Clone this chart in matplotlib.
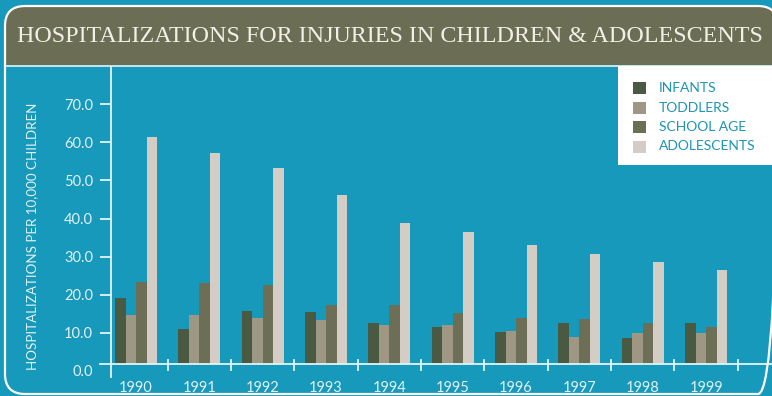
import matplotlib
matplotlib.use("Agg")
import matplotlib.pyplot as plt
from matplotlib.patches import FancyBboxPatch, Rectangle
import numpy as np

# ---- data -------------------------------------------------------------
years = ["1990", "1991", "1992", "1993", "1994",
         "1995", "1996", "1997", "1998", "1999"]
infants = [19.1, 11.0, 15.7, 15.4, 12.6, 11.5, 10.2, 12.6, 8.6, 12.6]
toddlers = [14.7, 14.7, 13.9, 13.3, 12.0, 12.0, 10.5, 8.9, 9.9, 9.9]
school_age = [23.3, 23.1, 22.5, 17.3, 17.3, 15.2, 13.9, 13.6, 12.6, 11.5]
adolescents = [61.4, 57.2, 53.3, 46.2, 38.8, 36.5, 33.0, 30.7, 28.6, 26.5]
series_names = ["INFANTS", "TODDLERS", "SCHOOL AGE", "ADOLESCENTS"]
y_ticks = [0, 10, 20, 30, 40, 50, 60, 70]

title = "HOSPITALIZATIONS FOR INJURIES IN CHILDREN & ADOLESCENTS"
y_label = "HOSPITALIZATIONS PER 10,000 CHILDREN"

# ---- style ------------------------------------------------------------
BLUE = "#1699ba"
OLIVE = "#6b6e55"
LINE = "#e6f3f6"
TEXT = "#e2f1f5"
LEGEND_TEXT = "#1c94b7"
colors = ["#4a5a42", "#9e9784", "#6c6e55", "#d3cdc6"]
SANS = ["Lato", "DejaVu Sans"]
SERIF = ["Liberation Serif", "DejaVu Serif"]

W, H = 772, 396
fig = plt.figure(figsize=(W / 100, H / 100), dpi=100, facecolor=BLUE)

# ---- frame, title band, legend panel (pixel coordinates) ---------------
bg = fig.add_axes([0, 0, 1, 1])
bg.set_xlim(0, W)
bg.set_ylim(H, 0)
bg.axis("off")

frame_box = dict(xy=(5, 6), width=773, height=388)
frame = FancyBboxPatch(**frame_box,
                       boxstyle="round,pad=0,rounding_size=20",
                       facecolor=BLUE, edgecolor="none", zorder=1)
bg.add_patch(frame)
band = Rectangle((0, 0), W, 65, facecolor=OLIVE, edgecolor="none", zorder=2)
bg.add_patch(band)
band.set_clip_path(frame)
bg.plot([5, W], [65.5, 65.5], color=LINE, lw=1.2, zorder=3)
bg.add_patch(Rectangle((618, 66), W - 618, 99, facecolor="white",
                       edgecolor="none", zorder=4))
bg.add_patch(FancyBboxPatch(**frame_box,
                            boxstyle="round,pad=0,rounding_size=20",
                            facecolor="none", edgecolor="white",
                            lw=1.6, zorder=5, clip_on=False))

bg.text(390, 37, title, ha="center", va="center", color="#f2efe6",
        fontsize=17.3, family=SERIF, zorder=6)

# legend entries
leg_y = [87.5, 107.5, 127.0, 146.5]
for name, col, yy in zip(series_names, colors, leg_y):
    bg.add_patch(Rectangle((633, yy - 6), 12.5, 12, facecolor=col,
                           edgecolor="none", zorder=6))
    bg.text(659, yy, name, ha="left", va="center", color=LEGEND_TEXT,
            fontsize=10, family=SANS, zorder=6)

bg.text(32, 236, y_label, rotation=90, ha="center", va="center",
        color=TEXT, fontsize=9.6, family=SANS)

# ---- chart axes --------------------------------------------------------
left_px, right_px, top_px, bottom_px = 111, 772, 67, 377
ax = fig.add_axes([left_px / W, (H - bottom_px) / H,
                   (right_px - left_px) / W, (bottom_px - top_px) / H])
ax.set_facecolor("none")

x = np.arange(len(years))
BASE = 1.7          # value level where the horizontal axis line sits
bw = 0.166
series = [infants, toddlers, school_age, adolescents]
for k, (vals, col) in enumerate(zip(series, colors)):
    v = np.asarray(vals)
    ax.bar(x + (k - 1.5) * bw, v - BASE, bottom=BASE, width=bw,
           color=col, edgecolor="none", zorder=2)

ax.set_xlim(-0.395, 10.04)
ax.set_ylim(-1.63, 79.8)

for s in ["top", "right", "bottom"]:
    ax.spines[s].set_visible(False)
ax.spines["left"].set_color(LINE)
ax.spines["left"].set_linewidth(1.3)

# horizontal axis line at the baseline, extending a little left of the y axis
ax.axhline(BASE, xmin=-0.0166, xmax=1, color=LINE, lw=1.3,
           clip_on=False, zorder=3)

# y ticks
ax.set_yticks(y_ticks)
ax.set_yticklabels([f"{t:.1f}" for t in y_ticks])
ax.tick_params(axis="y", direction="out", length=8, width=1.3,
               color=LINE, pad=5, labelcolor=TEXT, labelsize=10.5)
ax.yaxis.get_major_ticks()[0].tick1line.set_visible(False)
for lab in ax.get_yticklabels():
    lab.set_family(SANS)

# year labels at group centres
ax.set_xticks(x)
ax.set_xticklabels(years)
ax.tick_params(axis="x", length=0, pad=3, labelcolor=TEXT, labelsize=10.5)
for lab in ax.get_xticklabels():
    lab.set_family(SANS)

# group separators crossing the baseline
for xi in x:
    ax.plot([xi + 0.5, xi + 0.5], [BASE - 1.6, BASE + 1.2], color=LINE,
            lw=1.3, clip_on=False, zorder=3)

fig.savefig("out.png", dpi=100, facecolor=BLUE)
